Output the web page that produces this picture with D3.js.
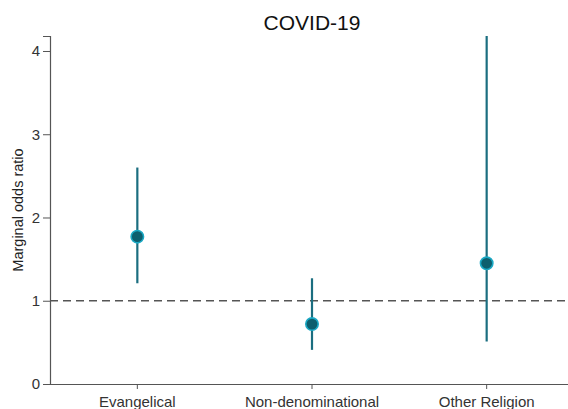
<!DOCTYPE html>
<html><head><meta charset="utf-8">
<script src="https://cdn.jsdelivr.net/npm/d3@7"></script>
<style>body{margin:0;background:#fff}svg{display:block}</style>
</head><body>
<script>
const categories = ["Evangelical", "Non-denominational", "Other Religion"];
const estimates = [1.77, 0.72, 1.45];
const lower = [1.21, 0.41, 0.51];
const upper = [2.60, 1.27, 4.18];
const yTicks = [0, 1, 2, 3, 4];
const refValue = 1;
const title = "COVID-19";
const yLabel = "Marginal odds ratio";

const W = 568, H = 409;
const svg = d3.select("body").append("svg").attr("width", W).attr("height", H);
const x = d3.scaleBand().domain(categories).range([50, 574]);
const y = d3.scaleLinear().domain([0, 4.18]).range([384, 36]);
const font = "Liberation Sans, Arial, sans-serif";

// reference line
svg.append("line").attr("x1", 50).attr("x2", W).attr("y1", y(refValue)).attr("y2", y(refValue))
  .attr("stroke", "#555").attr("stroke-width", 1.6).attr("stroke-dasharray", "8,5");

// y axis
const ya = svg.append("g").attr("transform", "translate(50,0)")
  .call(d3.axisLeft(y).tickValues(yTicks).tickSize(7).tickPadding(3).tickFormat(d3.format("d")));
ya.select(".domain").attr("stroke", "#555").attr("stroke-width", 1.2);
ya.selectAll(".tick line").attr("stroke", "#555");
ya.selectAll(".tick text").attr("font-family", font).attr("font-size", 15).attr("fill", "#333");

// x axis
const xa = svg.append("g").attr("transform", "translate(0,384)")
  .call(d3.axisBottom(x).tickSize(5).tickSizeOuter(0).tickPadding(7));
xa.select(".domain").attr("stroke", "#555").attr("stroke-width", 1.2);
xa.selectAll(".tick line").attr("stroke", "#555");
xa.selectAll(".tick text").attr("font-family", font).attr("font-size", 15).attr("fill", "#333");

const cx = d => x(d) + x.bandwidth() / 2;
const data = categories.map((c, i) => ({c, e: estimates[i], lo: lower[i], hi: upper[i]}));

svg.selectAll("line.ci").data(data).enter().append("line").attr("class", "ci")
  .attr("x1", d => cx(d.c)).attr("x2", d => cx(d.c))
  .attr("y1", d => y(d.lo)).attr("y2", d => y(d.hi))
  .attr("stroke", "#1b6e80").attr("stroke-width", 2.2);

svg.selectAll("circle.pt").data(data).enter().append("circle").attr("class", "pt")
  .attr("cx", d => cx(d.c)).attr("cy", d => y(d.e)).attr("r", 6.2)
  .attr("fill", "#0d5f6e").attr("stroke", "#1aa8c4").attr("stroke-width", 1.6);

svg.append("text").attr("x", 312).attr("y", 30).attr("text-anchor", "middle")
  .attr("font-family", font).attr("font-size", 21).attr("fill", "#111").text(title);

svg.append("text").attr("transform", "translate(23,210) rotate(-90)").attr("text-anchor", "middle")
  .attr("font-family", font).attr("font-size", 14.5).attr("fill", "#222").text(yLabel);
</script>
</body></html>
